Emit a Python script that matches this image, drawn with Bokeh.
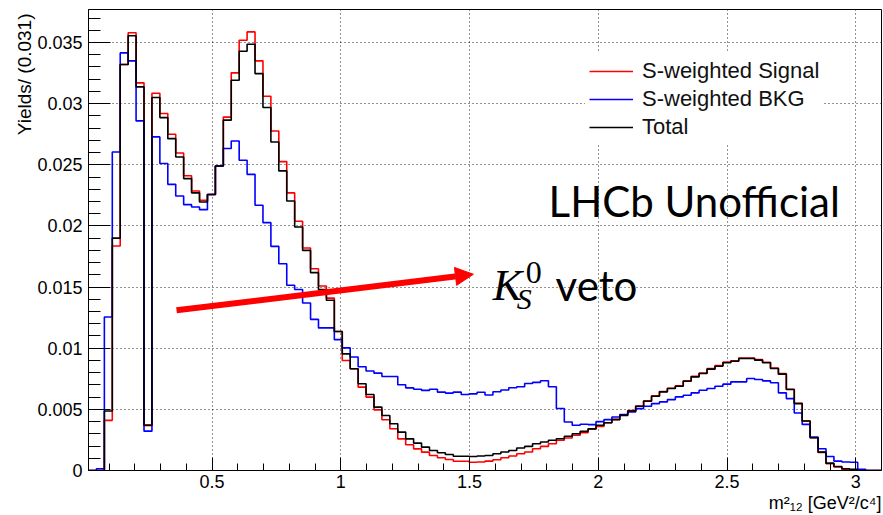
import numpy as np
from bokeh.plotting import figure
from bokeh.models import FixedTicker, Label, Arrow, NormalHead, Legend, LegendItem, Title
from bokeh.embed import file_html
from bokeh.resources import INLINE

# ---------------- data ----------------
X_MIN = 0.02
X_MAX = 3.1
N_BINS = 100
Y_MAX = 0.0377

signal = [0, 0, 0.0041, 0.01836, 0.0332, 0.0358, 0.0317, 0.00374, 0.03085, 0.02919,
          0.0275, 0.02597, 0.02411, 0.02286, 0.0221, 0.02257, 0.0249, 0.0289, 0.03252, 0.03519,
          0.03587, 0.0335, 0.03061, 0.02777, 0.02526, 0.0227, 0.02038, 0.01819, 0.0165, 0.01509,
          0.0141, 0.01137, 0.009, 0.00832, 0.00682, 0.006, 0.00496, 0.00415, 0.00341, 0.00259,
          0.0021, 0.00177, 0.0015, 0.00123, 0.00104, 0.0009, 0.00076, 0.00076, 0.00068, 0.0007,
          0.00077, 0.00088, 0.00104, 0.00118, 0.00137, 0.00151, 0.00178, 0.00197, 0.00219, 0.00247,
          0.00266, 0.00288, 0.0031, 0.0034, 0.0036, 0.0039, 0.00418, 0.00453, 0.0049, 0.00528,
          0.0057, 0.0061, 0.00646, 0.00673, 0.00693, 0.00734, 0.0077, 0.00797, 0.00833, 0.00858,
          0.00886, 0.00898, 0.0092, 0.0092, 0.00907, 0.00885, 0.00838, 0.00792, 0.00665, 0.0055,
          0.00405, 0.00268, 0.00148, 0.00055, 0.0003, 0.0001, 0.00005, 0, 0, 0]

total = [0, 0, 0.00486, 0.019, 0.0332, 0.03555, 0.03137, 0.00368, 0.0305, 0.02886,
         0.02714, 0.02564, 0.02387, 0.0227, 0.02196, 0.02257, 0.0249, 0.02865, 0.03192, 0.03429,
         0.03486, 0.03246, 0.02968, 0.02687, 0.0245, 0.02204, 0.01991, 0.018, 0.01618, 0.01479,
         0.01392, 0.01137, 0.00954, 0.00832, 0.00709, 0.00622, 0.00518, 0.0045, 0.00382, 0.00314,
         0.00259, 0.00224, 0.00191, 0.00164, 0.00145, 0.00131, 0.00117, 0.00117, 0.00115, 0.00118,
         0.00123, 0.00137, 0.00151, 0.00164, 0.00184, 0.00197, 0.00219, 0.00233, 0.00247, 0.0026,
         0.0028, 0.00301, 0.0032, 0.0034, 0.0037, 0.0039, 0.00416, 0.00451, 0.00487, 0.00525,
         0.00566, 0.00607, 0.00643, 0.0067, 0.00689, 0.0073, 0.00766, 0.00793, 0.00829, 0.00853,
         0.00881, 0.00893, 0.00916, 0.00916, 0.00903, 0.00881, 0.00834, 0.00788, 0.00662, 0.00547,
         0.00405, 0.00268, 0.0015, 0.0006, 0.00033, 0.00014, 0.0001, 0, 0, 0]

background = [0, 0.00014, 0.01255, 0.02605, 0.03415, 0.0335, 0.02859, 0.00322, 0.02728, 0.0251,
              0.0234, 0.02245, 0.02174, 0.02155, 0.02133, 0.02257, 0.0249, 0.02633, 0.02695, 0.02537,
              0.02422, 0.02169, 0.02027, 0.01833, 0.01691, 0.01515, 0.0148, 0.0137, 0.01236, 0.01166,
              0.01166, 0.0107, 0.01003, 0.00928, 0.00848, 0.00814, 0.00796, 0.00769, 0.00769, 0.00701,
              0.00676, 0.00665, 0.00655, 0.00665, 0.00641, 0.00633, 0.00641, 0.00622, 0.00627, 0.0064,
              0.00617, 0.00644, 0.00658, 0.00677, 0.00685, 0.00712, 0.00721, 0.00734, 0.00685, 0.00507,
              0.00397, 0.0037, 0.00378, 0.00375, 0.004, 0.00416, 0.00438, 0.00457, 0.00479, 0.00506,
              0.00525, 0.00547, 0.00561, 0.0058, 0.00602, 0.00615, 0.00635, 0.00656, 0.0067, 0.00689,
              0.00706, 0.00725, 0.00725, 0.00752, 0.00744, 0.00733, 0.00717, 0.00635, 0.00588, 0.0047,
              0.00377, 0.00274, 0.00178, 0.00115, 0.00077, 0.0007, 0.00068, 0.0001, 0, 0]

series_labels = ["S-weighted Signal", "S-weighted BKG", "Total"]

x_ticks = [0.5, 1.0, 1.5, 2.0, 2.5, 3.0]
x_tick_labels = ["0.5", "1", "1.5", "2", "2.5", "3"]
y_ticks = [0.0, 0.005, 0.01, 0.015, 0.02, 0.025, 0.03, 0.035]
y_tick_labels = ["0", "0.005", "0.01", "0.015", "0.02", "0.025", "0.03", "0.035"]

x_title = "m²₁₂ [GeV²/c⁴]"
y_title = "Yields/ (0.031)"
# ---------------------------------------

edges = np.linspace(X_MIN, X_MAX, N_BINS + 1)


def step_y(vals):
    return list(vals) + [vals[-1]]


p = figure(width=883, height=515, x_range=(X_MIN, X_MAX), y_range=(0, Y_MAX),
           output_backend="svg", toolbar_location=None,
           min_border_left=88, min_border_right=2, min_border_top=9, min_border_bottom=45,
           background_fill_color="white", border_fill_color="white")
p.outline_line_color = "black"
p.outline_line_width = 1

x_minor = [round(0.1 * i, 1) for i in range(1, 31)]
y_minor = [round(0.001 * i, 3) for i in range(1, 38)]

xa = p.xaxis[0]
xa.ticker = FixedTicker(ticks=x_ticks, minor_ticks=x_minor)
xa.major_label_overrides = dict(zip(x_ticks, x_tick_labels))
xa.major_tick_in = 13
xa.major_tick_out = 0
xa.minor_tick_in = 7
xa.minor_tick_out = 0
xa.major_label_standoff = 4
xa.major_label_text_font = "Liberation Sans"
xa.major_label_text_font_size = "18px"
xa.major_label_text_color = "black"
xa.axis_line_color = "black"
xa.major_tick_line_color = "black"
xa.minor_tick_line_color = "black"

ya = p.yaxis[0]
ya.ticker = FixedTicker(ticks=y_ticks, minor_ticks=y_minor)
ya.major_label_overrides = dict(zip(y_ticks, y_tick_labels))
ya.major_tick_in = 22
ya.major_tick_out = 0
ya.minor_tick_in = 12
ya.minor_tick_out = 0
ya.major_label_standoff = 6
ya.major_label_text_font = "Liberation Sans"
ya.major_label_text_font_size = "18px"
ya.major_label_text_color = "black"
ya.axis_line_color = "black"
ya.major_tick_line_color = "black"
ya.minor_tick_line_color = "black"

p.xgrid.ticker = FixedTicker(ticks=x_ticks)
p.ygrid.ticker = FixedTicker(ticks=y_ticks[1:])
p.grid.grid_line_color = "black"
p.grid.grid_line_dash = "1 3"
p.grid.grid_line_alpha = 0.85
p.grid.grid_line_width = 1

r_sig = p.step(edges, step_y(signal), mode="after", line_color="#ff0000", line_width=1.6)
r_bkg = p.step(edges, step_y(background), mode="after", line_color="#0000ff", line_width=1.6)
r_tot = p.step(edges, step_y(total), mode="after", line_color="#000000", line_width=1.6)

legend = Legend(items=[LegendItem(label=series_labels[0], renderers=[r_sig]),
                       LegendItem(label=series_labels[1], renderers=[r_bkg]),
                       LegendItem(label=series_labels[2], renderers=[r_tot])],
                location=(497, 325), glyph_width=44, glyph_height=28, label_height=28,
                label_standoff=9, spacing=0, padding=4, margin=0,
                border_line_alpha=0, background_fill_color="white", background_fill_alpha=1,
                label_text_font="Liberation Sans", label_text_font_size="22px",
                label_text_color="#111111")
p.add_layout(legend)

# axis titles (ROOT style: aligned to the end of each axis)
p.add_layout(Title(text=x_title, align="right", text_font="Liberation Sans",
                   text_font_size="18px", text_font_style="normal", text_color="black",
                   standoff=0, offset=0), "below")
p.add_layout(Title(text=y_title, align="right", text_font="Liberation Sans",
                   text_font_size="19px", text_font_style="normal", text_color="black",
                   standoff=0, offset=4), "left")

# annotations
p.add_layout(Label(x=1.807, y=0.02203, text="LHCb Unofficial", text_font="Lato",
                   text_font_size="42px", text_align="left", text_baseline="alphabetic",
                   text_color="black"))
p.add_layout(Label(x=1.5897, y=0.01515, text="K", text_font="Liberation Serif",
                   text_font_style="italic", text_font_size="44px", text_align="left",
                   text_baseline="alphabetic", text_color="black"))
p.add_layout(Label(x=1.683, y=0.01409, text="S", text_font="Liberation Serif",
                   text_font_style="italic", text_font_size="30px", text_align="left",
                   text_baseline="alphabetic", text_color="black"))
p.add_layout(Label(x=1.718, y=0.01622, text="0", text_font="Liberation Serif",
                   text_font_size="32px", text_align="left",
                   text_baseline="alphabetic", text_color="black"))
p.add_layout(Label(x=1.834, y=0.01515, text="veto", text_font="Lato",
                   text_font_size="42px", text_align="left", text_baseline="alphabetic",
                   text_color="black"))

p.add_layout(Arrow(x_start=0.362, y_start=0.0131, x_end=1.515, y_end=0.01605,
                   line_color="#ff0000", line_width=6,
                   end=NormalHead(size=18, fill_color="#ff0000", line_color="#ff0000",
                                  line_width=1)))

open("out.html", "w").write(file_html(p, INLINE))
